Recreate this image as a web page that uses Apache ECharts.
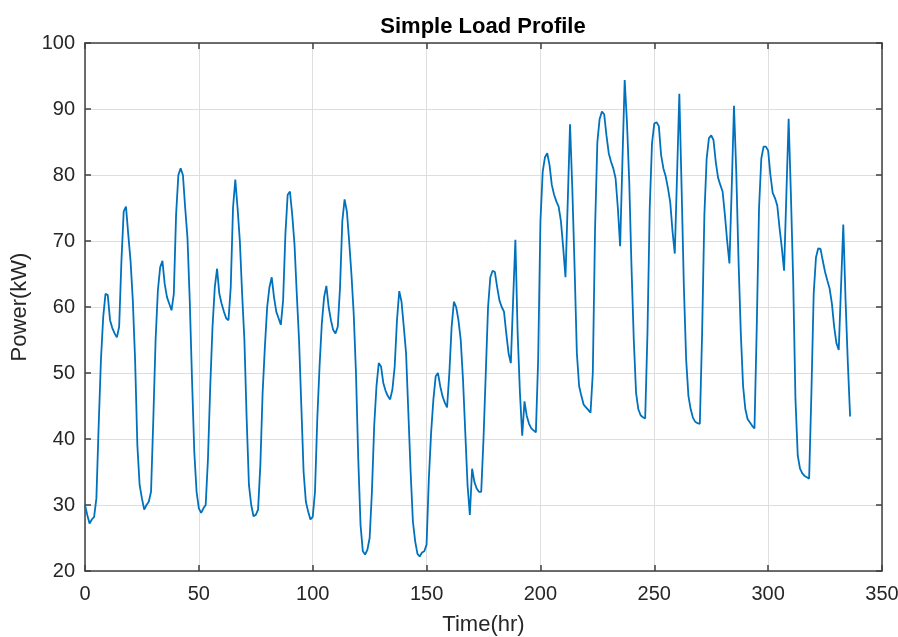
<!DOCTYPE html>
<html>
<head>
<meta charset="utf-8">
<title>Simple Load Profile</title>
<script src="https://cdn.jsdelivr.net/npm/echarts@6/dist/echarts.min.js"></script>
<style>
    html, body { margin: 0; padding: 0; background: #fff; }
    #chart { width: 898px; height: 637px; }
</style>
</head>
<body>
<div id="chart"></div>
<script>
// hourly load, one array per day (kW)
var day01 = [30, 28.5, 27.2, 27.8, 28.2, 31, 42, 52, 58.5, 62, 61.8, 58, 56.8, 56, 55.4, 57, 67, 74.5, 75.2, 71, 67, 61, 52, 39];
var day02 = [33, 31, 29.3, 30, 30.5, 32, 43, 55, 62.5, 66, 67, 63.5, 61.5, 60.5, 59.5, 62, 74, 80, 81, 80, 75, 70.5, 61, 49];
var day03 = [38, 32, 29.5, 28.8, 29.5, 30, 37, 48, 57, 63, 65.8, 62, 60.5, 59.3, 58.3, 58, 63, 75, 79.3, 75, 70, 62, 55, 43];
var day04 = [33, 30, 28.3, 28.5, 29.3, 36, 47, 54, 60, 63, 64.5, 61.5, 59.3, 58.3, 57.3, 61, 71, 77, 77.5, 74, 69.5, 62, 55, 45];
var day05 = [35, 30.5, 29, 27.8, 28.2, 32, 43, 51, 57.5, 61.5, 63.2, 60, 58, 56.5, 56, 57, 63, 73, 76.3, 74.5, 70, 65, 59, 50];
var day06 = [37, 27, 23, 22.5, 23.2, 25, 32, 42, 48, 51.5, 51, 48.5, 47.3, 46.5, 46, 47.5, 51, 58, 62.4, 60.8, 57, 53, 44, 35];
var day07 = [27.5, 24.5, 22.6, 22.2, 22.8, 23, 24, 34, 41, 46, 49.5, 50, 48, 46.5, 45.5, 44.8, 50, 57, 60.8, 60, 58, 55, 49, 41];
var day08 = [33, 28.5, 35.5, 33.5, 32.5, 32, 32, 40, 50, 60, 64.5, 65.5, 65.3, 63, 61, 60, 59.3, 56, 53, 51.5, 61, 70.2, 56, 47];
var day09 = [40.5, 45.7, 43.5, 42.3, 41.6, 41.3, 41, 52, 73, 80.5, 82.7, 83.3, 81.5, 78.5, 77, 76, 75.2, 73, 69, 64.5, 76, 87.7, 78, 66];
var day10 = [53, 48, 46.5, 45.2, 44.8, 44.4, 44, 50, 72, 85, 88.5, 89.6, 89.2, 86, 83.3, 82, 81, 79.5, 75, 69.2, 82, 94.4, 88, 79];
var day11 = [66, 55, 47, 44.5, 43.6, 43.3, 43.1, 56, 75, 84.8, 87.8, 88, 87.4, 83, 81, 79.8, 78, 75.9, 71.5, 68.1, 80, 92.3, 78, 63];
var day12 = [52, 46.5, 44.5, 43.2, 42.6, 42.4, 42.3, 56, 74, 82.5, 85.6, 86, 85.3, 82, 79.6, 78.5, 77.5, 74, 70, 66.6, 78, 90.5, 80.5, 67];
var day13 = [56, 48, 44.5, 43, 42.5, 42, 41.6, 57, 75, 82.5, 84.3, 84.3, 83.7, 80, 77.3, 76.5, 75.4, 72, 69, 65.5, 77, 88.5, 77, 64];
var day14 = [46, 37.5, 35.5, 34.8, 34.4, 34.2, 34, 47, 62, 67.5, 68.9, 68.8, 67, 65.3, 64, 62.8, 60.5, 57, 54.5, 53.5, 63, 72.5, 61, 51.5];
var lastHour = [43.4];

var xTicks = [0, 50, 100, 150, 200, 250, 300, 350];
var yTicks = [20, 30, 40, 50, 60, 70, 80, 90, 100];

var days = [day01, day02, day03, day04, day05, day06, day07, day08, day09, day10, day11, day12, day13, day14, lastHour];
var loadData = new Array();
for (var d = 0; d < days.length; d++) {
    for (var h = 0; h < days[d].length; h++) {
        loadData.push([d * 24 + h, days[d][h]]);
    }
}

var fontName = 'Liberation Sans, Arial, sans-serif';
var axisColor = '#404040';
var textColor = '#262626';

function frameAxis(pos, ticks, isX) {
    var ax = {
        type: 'value',
        position: pos,
        min: ticks[0],
        max: ticks[ticks.length - 1],
        interval: ticks[1] - ticks[0],
        axisLine: {show: true, onZero: false, lineStyle: {color: axisColor, width: 1.5}},
        axisTick: {show: true, inside: true, length: 6, lineStyle: {color: axisColor, width: 1.5}},
        axisLabel: {show: false},
        splitLine: {show: false}
    };
    if (pos === 'bottom' || pos === 'left') {
        ax.axisLabel = {show: true, fontSize: 20, color: textColor, fontFamily: fontName, margin: isX ? 13 : 10};
        ax.splitLine = {show: true, lineStyle: {color: '#dedede', width: 1}};
        ax.name = isX ? 'Time(hr)' : 'Power(kW)';
        ax.nameLocation = 'middle';
        ax.nameGap = isX ? 43 : 51;
        ax.nameTextStyle = {fontSize: 22, color: textColor, fontFamily: fontName};
    }
    return ax;
}

var myChart = echarts.init(document.getElementById('chart'), null, {renderer: 'canvas'});
var option = {
    animation: false,
    backgroundColor: '#fff',
    title: {
        text: 'Simple Load Profile',
        left: 478,
        top: 11,
        textAlign: 'center',
        textStyle: {fontSize: 22, fontWeight: 'bold', color: '#000', fontFamily: fontName}
    },
    grid: {left: 85, right: 16, top: 43, bottom: 66, containLabel: false, outerBoundsMode: 'none'},
    xAxis: [frameAxis('bottom', xTicks, true), frameAxis('top', xTicks, true)],
    yAxis: [frameAxis('left', yTicks, false), frameAxis('right', yTicks, false)],
    series: [
        {
            name: 'Load',
            type: 'line',
            xAxisIndex: 0,
            yAxisIndex: 0,
            data: loadData,
            showSymbol: false,
            lineStyle: {color: '#0072BD', width: 1.8}
        }
    ]
};
myChart.setOption(option);
</script>
</body>
</html>
